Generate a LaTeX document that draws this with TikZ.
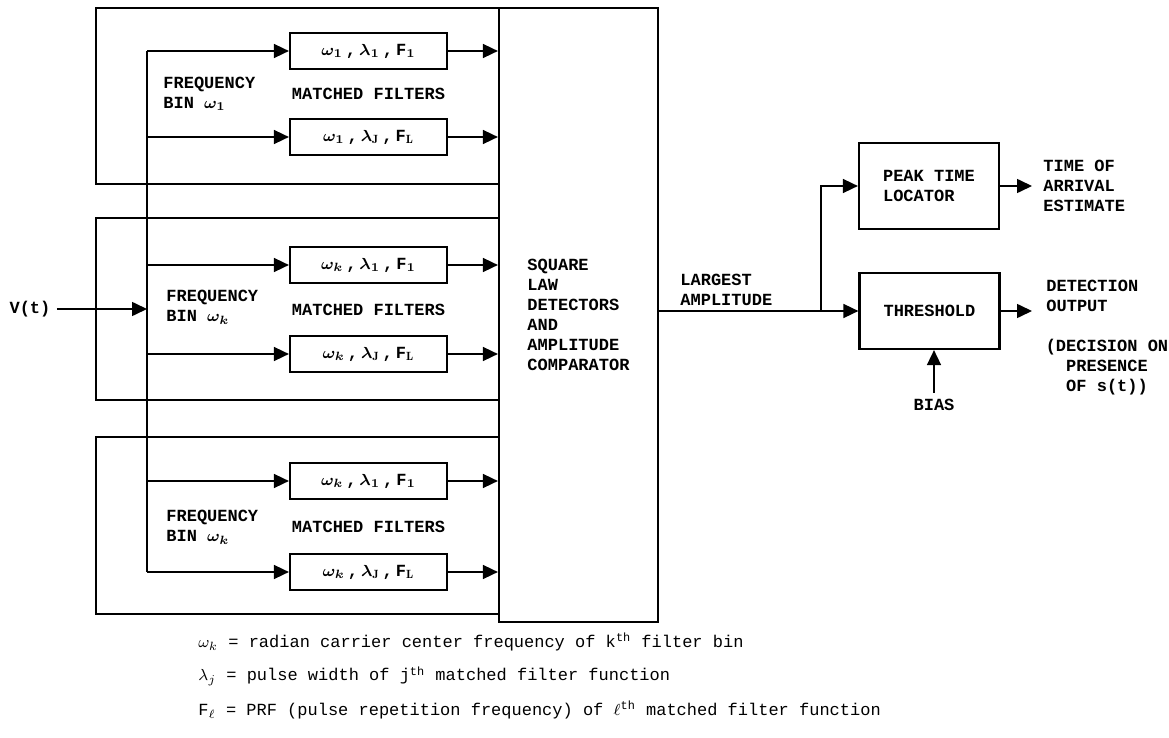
\documentclass[tikz,border=0pt]{standalone}
\usepackage{fontspec}
\setmonofont{Liberation Mono}
\usetikzlibrary{arrows.meta, positioning, calc}

\newcommand{\lblfont}{\fontsize{8.5}{10}\selectfont\ttfamily\bfseries\boldmath}
\newcommand{\legfont}{\fontsize{8.5}{10}\selectfont\ttfamily}
\newcommand{\sep}{\hspace{1.5pt},\hspace{1.5pt}}

\begin{document}
\begin{tikzpicture}[x=0.5pt, y=-0.5pt, >={Triangle[length=7.5pt,width=7pt]},
  wire/.style={line width=0.8pt},
  boxline/.style={draw, line width=1.1pt},
  filt/.style={boxline, minimum width=78.5pt, minimum height=18pt, inner sep=0pt, font=\lblfont},
  binbox/.style={boxline, minimum width=201.5pt, inner sep=0pt},
  blk/.style={boxline, minimum width=70pt, inner sep=0pt, font=\lblfont, align=left},
  lbl/.style={font=\lblfont, align=left, inner sep=0pt},
  leg/.style={font=\legfont, anchor=west, inner sep=0pt}]
  \useasboundingbox (0,0) rectangle (1169,738);

  % frequency bins and the comparator
  \node[binbox, minimum height=88pt]   (bin1) at (297.5,96)  {};
  \node[binbox, minimum height=91pt]   (bin2) at (297.5,309) {};
  \node[binbox, minimum height=88.5pt] (bin3) at (297.5,525.5) {};
  \node[boxline, minimum width=79.5pt, minimum height=307pt, inner sep=0pt,
        font=\lblfont, align=left] (sqlaw) at (578.5,315)
    {SQUARE\\LAW\\DETECTORS\\AND\\AMPLITUDE\\COMPARATOR};

  % matched filters
  \foreach \nm/\y/\txt in {
      f11/51/{$\omega_1$\sep$\lambda_1$\sep F$_1$},
      f1L/137/{$\omega_1$\sep$\lambda_{\mathrm{J}}$\sep F$_{\mathrm{L}}$},
      f21/265/{$\omega_k$\sep$\lambda_1$\sep F$_1$},
      f2L/354/{$\omega_k$\sep$\lambda_{\mathrm{J}}$\sep F$_{\mathrm{L}}$},
      f31/481/{$\omega_k$\sep$\lambda_1$\sep F$_1$},
      f3L/572/{$\omega_k$\sep$\lambda_{\mathrm{J}}$\sep F$_{\mathrm{L}}$}} {
    \node[filt] (\nm) at (368.5,\y) {\txt};
  }

  \node[lbl] (mf1) at ($(f11)!0.5!(f1L)$) {MATCHED FILTERS};
  \node[lbl] (mf2) at ($(f21)!0.5!(f2L)$) {MATCHED FILTERS};
  \node[lbl] (mf3) at ($(f31)!0.5!(f3L)$) {MATCHED FILTERS};
  \node[lbl, anchor=west] (fb1) at (163,93.5) {FREQUENCY\\BIN $\omega_1$};
  \node[lbl, anchor=west] (fb2) at (166,307.5) {FREQUENCY\\BIN $\omega_k$};
  \node[lbl, anchor=west] (fb3) at (166,527) {FREQUENCY\\BIN $\omega_k$};

  % input bus
  \node[lbl, inner sep=3pt] (vt) at (30,309) {V(t)};
  \coordinate (bustop) at (147,51);
  \coordinate (busbot) at (147,572);
  \draw[wire] (bustop) -- (busbot);
  \draw[wire,->] (vt.east) -- (vt.east -| bustop);
  \foreach \nm in {f11,f1L,f21,f2L,f31,f3L} {
    \draw[wire,->] (\nm.west -| bustop) -- (\nm.west);
    \draw[wire,->] (\nm.east) -- (\nm.east -| sqlaw.west);
  }

  % decision stage
  \node[blk, minimum height=43pt] (peak) at (929,186) {PEAK TIME\\LOCATOR};
  \node[blk, minimum height=38pt] (thr) at (929.5,311) {THRESHOLD};
  \coordinate (junc) at (821,311);
  \draw[wire,->] (sqlaw.east |- thr.west) -- (thr.west);
  \draw[wire,->] (junc) |- (peak.west);
  \node[lbl, anchor=west] (amp) at (680,289.5) {LARGEST\\AMPLITUDE};

  \node[lbl, inner sep=3pt] (bias) at (934,405) {BIAS};
  \draw[wire,->] (bias.north) -- (bias.north |- thr.south);

  \coordinate (toaend) at (1032,186);
  \coordinate (detend) at (1032,311);
  \draw[wire,->] (peak.east) -- (toaend);
  \draw[wire,->] (thr.east) -- (detend);
  \node[lbl, anchor=west] (toa) at (1043,186) {TIME OF\\ARRIVAL\\ESTIMATE};
  \node[lbl, anchor=west] (det) at (1046,296) {DETECTION\\OUTPUT};
  \node[lbl, align=center] (dec) at (1107,367) {(DECISION ON\\PRESENCE\\OF s(t))};

  % legend
  \node[leg] (legw) at (198,642) {$\omega_k$ = radian carrier center frequency of k\textsuperscript{th} filter bin};
  \node[leg] (legl) at (198,676) {$\lambda_j$ = pulse width of j\textsuperscript{th} matched filter function};
  \node[leg] (legf) at (198,710) {F$_\ell$ = PRF (pulse repetition frequency) of $\ell$\textsuperscript{th} matched filter function};
\end{tikzpicture}
\end{document}
